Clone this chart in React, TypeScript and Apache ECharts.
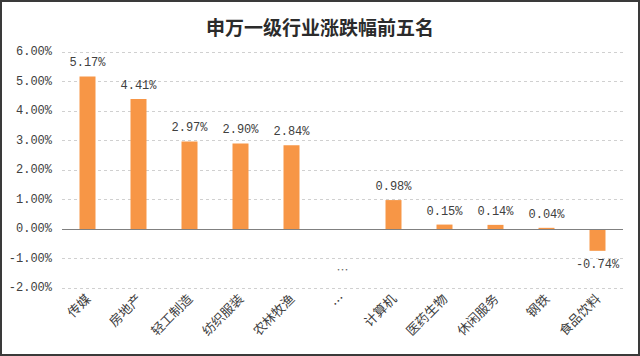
import React, { useEffect, useRef } from "react";
import * as echarts from "echarts";

const titleText = "申万一级行业涨跌幅前五名";
const categories = ["传媒", "房地产", "轻工制造", "纺织服装", "农林牧渔", "…", "计算机", "医药生物", "休闲服务", "钢铁", "食品饮料"];
const changePct: (number | null)[] = [5.17, 4.41, 2.97, 2.9, 2.84, null, 0.98, 0.15, 0.14, 0.04, -0.74];
const ellipsisMarker: (number | null)[] = [null, null, null, null, null, -1.38, null, null, null, null, null];
const yMin = -2;
const yMax = 6;
const yStep = 1;

export default function App() {
  const ref = useRef<HTMLDivElement>(null);
  useEffect(() => {
    if (!ref.current) return;
    const chart = echarts.init(ref.current, undefined, { renderer: "svg" });
    const txt = "#404040";
    const mono = "'Liberation Mono', 'DejaVu Sans Mono', monospace";
    const cjk = "'Noto Sans CJK SC', sans-serif";
    const barData = changePct.map((v) =>
      v != null && v < 0 ? { value: v, label: { position: "bottom", distance: 8 } } : v
    );
    chart.setOption({
      animation: false,
      backgroundColor: "#ffffff",
      title: {
        text: titleText,
        left: "center",
        top: 12,
        textStyle: { fontFamily: cjk, fontSize: 19, fontWeight: "bold", color: "#2b2b2b" },
      },
      grid: { left: 62, right: 17, top: 52, bottom: 68 },
      xAxis: {
        type: "category",
        data: categories,
        axisLine: { show: false, onZero: false },
        axisTick: { show: false },
        axisLabel: { interval: 0, rotate: 45, margin: 8, fontFamily: cjk, fontSize: 13, color: txt },
        splitLine: { show: false },
      },
      yAxis: {
        type: "value",
        min: yMin,
        max: yMax,
        interval: yStep,
        axisLine: { show: false },
        axisTick: { show: false },
        axisLabel: {
          margin: 10,
          fontFamily: mono,
          fontSize: 12,
          color: txt,
          formatter: (v: number) => v.toFixed(2) + "%",
        },
        splitLine: { show: true, lineStyle: { type: [3, 3], color: "#D0D0D0", width: 1 } },
      },
      series: [
        {
          type: "bar",
          data: barData,
          barWidth: 16,
          itemStyle: { color: "#F79646" },
          label: {
            show: true,
            position: "top",
            distance: 7,
            fontFamily: mono,
            fontSize: 12,
            color: txt,
            formatter: (p: any) => (p.value == null ? "" : Number(p.value).toFixed(2) + "%"),
          },
          markLine: {
            silent: true,
            symbol: "none",
            label: { show: false },
            lineStyle: { type: "solid", color: "#808080", width: 1 },
            data: [{ yAxis: 0 }],
          },
        },
        {
          type: "scatter",
          data: ellipsisMarker,
          symbolSize: 0,
          silent: true,
          label: {
            show: true,
            position: "inside",
            formatter: "…",
            fontFamily: cjk,
            fontSize: 12,
            color: txt,
          },
        },
      ],
    });
    return () => chart.dispose();
  }, []);
  return (
    <div style={{ position: "absolute", left: 0, top: 0, width: 640, height: 356 }}>
      <div ref={ref} style={{ position: "absolute", left: 0, top: 0, width: 640, height: 356 }} />
      <div
        style={{
          position: "absolute",
          left: 0,
          top: 0,
          width: 640,
          height: 356,
          boxSizing: "border-box",
          border: "2px solid #3a3a3a",
          pointerEvents: "none",
        }}
      />
    </div>
  );
}
